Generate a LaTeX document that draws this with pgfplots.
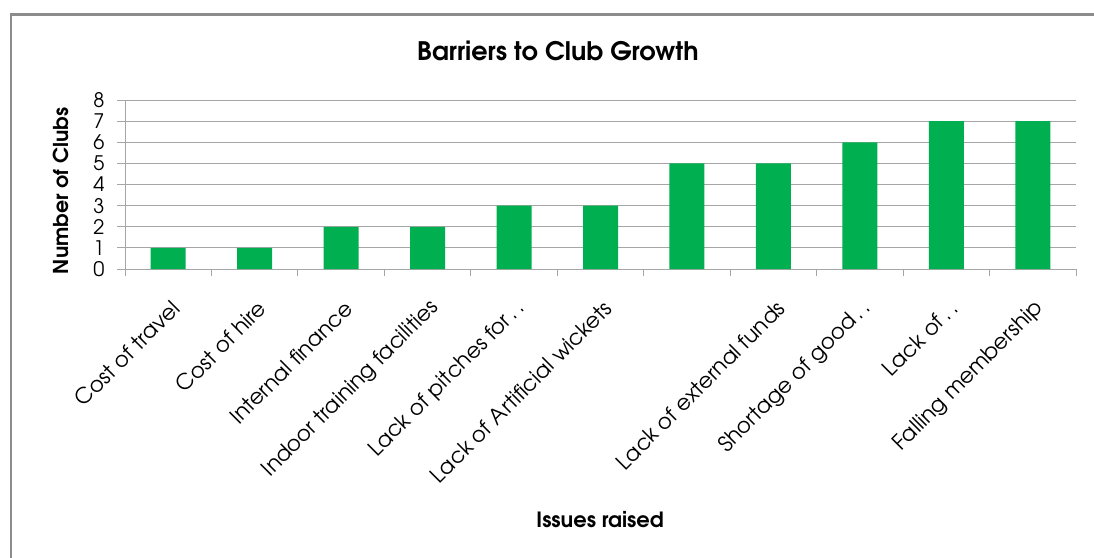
\documentclass[border=0pt]{standalone}
\usepackage{pgfplots}
\pgfplotsset{compat=1.18}
\usepackage{fontspec}
\setmainfont{TeX Gyre Adventor}
\definecolor{bargreen}{HTML}{00B050}
\definecolor{gridgray}{HTML}{A6A6A6}
\definecolor{framegray}{HTML}{8C8C8C}
\begin{document}
\begin{tikzpicture}[x=1pt,y=1pt]
\useasboundingbox (0,0) rectangle (1094,-557);
\draw[framegray, line width=2.5pt] (11,-600) -- (11,-14.5) -- (1120,-14.5);
\begin{axis}[at={(125pt,-269pt)}, anchor=south west,
  width=951pt, height=169pt, scale only axis,
  xmin=-0.5, xmax=10.5, ymin=0, ymax=8,
  axis x line*=bottom, axis y line*=left,
  axis line style={gridgray, line width=1pt},
  tick style={gridgray, line width=1pt},
  tick align=outside,
  major tick length=8pt, minor tick length=7pt,
  xtick={0,...,10},
  xticklabels={Cost of travel, Cost of hire, Internal finance, Indoor training facilities, Lack of pitches for\,.\,., Lack of Artificial wickets, {}, Lack of external funds, Shortage of good\,.\,., Lack of\,.\,., Falling membership},
  major x tick style={draw=none},
  minor xtick={-0.5,0.5,...,10.5},
  ytick={0,...,8},
  ymajorgrids, grid style={gridgray, line width=1pt},
  xticklabel style={rotate=45, anchor=east, yshift=-25pt, xshift=-11pt, font=\fontsize{21.5}{24}\selectfont},
  yticklabel style={font=\fontsize{20}{22}\selectfont, xshift=-9pt},
  /pgf/number format/assume math mode=true,
  ybar, bar width=35pt, bar shift=0pt,
  clip=false,
]
\addplot[fill=bargreen, draw=none] coordinates {
(0,1) (1,1) (2,2) (3,2) (4,3) (5,3) (6,5) (7,5) (8,6) (9,7) (10,7)
};
\end{axis}
\node[font=\bfseries\fontsize{25.5}{30}\selectfont] at (558,-51) {Barriers to Club Growth};
\node[font=\bfseries\fontsize{20.5}{24}\selectfont, rotate=90] at (61,-191) {Number of Clubs};
\node[font=\bfseries\fontsize{21}{24}\selectfont] at (600,-520) {Issues raised};
\end{tikzpicture}
\end{document}
